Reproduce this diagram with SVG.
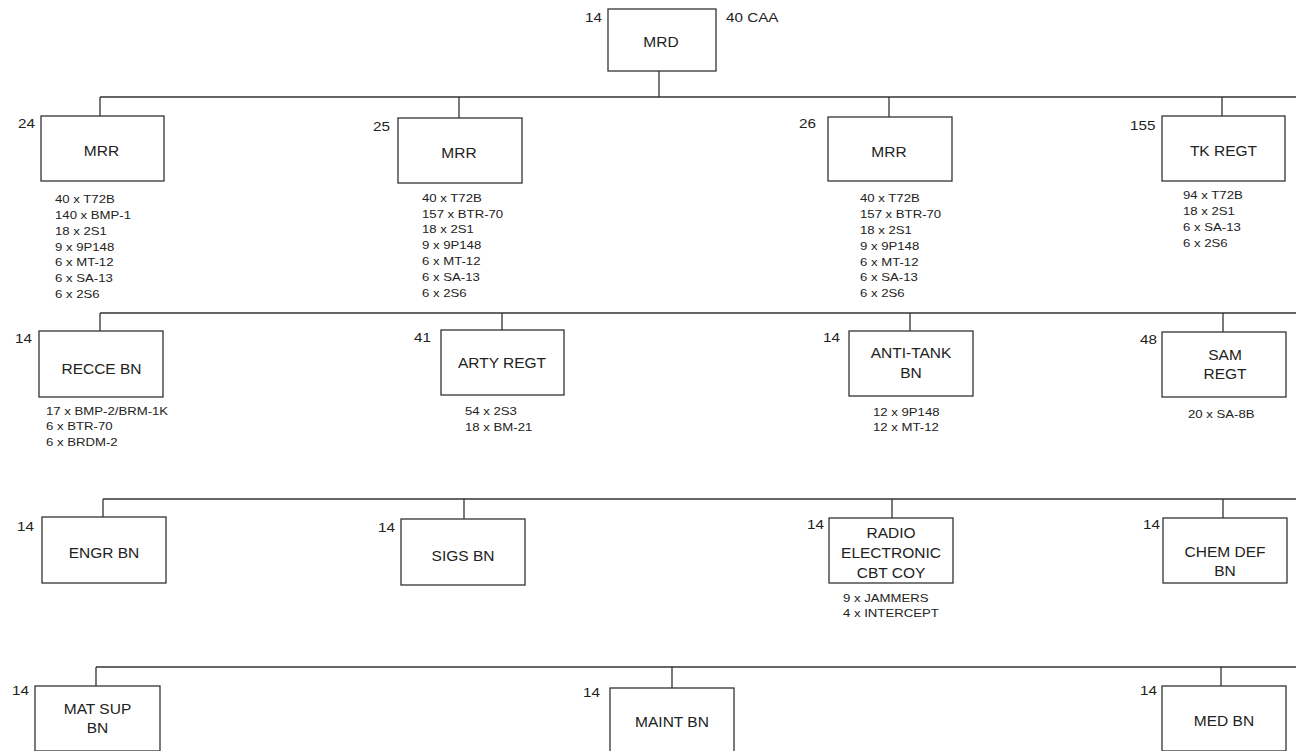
<svg xmlns="http://www.w3.org/2000/svg" width="1296" height="751" viewBox="0 0 1296 751">
<style>
.bg{fill:#ffffff}
.box{fill:#ffffff;stroke:#333333;stroke-width:1.3}
.ln{fill:none;stroke:#333333;stroke-width:1.3}
.lb{font-family:"Liberation Sans",Arial,sans-serif;font-size:15.5px;fill:#222222;text-anchor:middle}
.n{font-family:"Liberation Sans",Arial,sans-serif;font-size:12.5px;fill:#222222}
.s{font-family:"Liberation Sans",Arial,sans-serif;font-size:10.8px;fill:#222222}
</style>
<rect class="bg" x="0" y="0" width="1296" height="751"/>
<g id="connectors">
<path class="ln" d="M659 71V97M100 97H1296M100 97V116M459 97V118M889 97V117M1222 97V116"/>
<path class="ln" d="M100 313H1296M100 313V331M502 313V330M910 313V331M1223 313V332"/>
<path class="ln" d="M103 499H1296M103 499V517M464 499V519M892 499V518M1223 499V518"/>
<path class="ln" d="M96 667H1296M96 667V686M672 667V688M1221 667V686"/>
</g>
<g id="mrd">
<rect class="box" x="608" y="9" width="108" height="62"/>
<text class="lb" x="661" y="46.5">MRD</text>
<text class="n" transform="translate(585 22) scale(1.22 1)">14</text>
<text class="n" transform="translate(726 22) scale(1.22 1)">40 CAA</text>
</g>
<g id="mrr24">
<rect class="box" x="41" y="116" width="123" height="65"/>
<text class="lb" x="101.5" y="156">MRR</text>
<text class="n" transform="translate(18 128) scale(1.22 1)">24</text>
<text class="s" transform="translate(55 203.3) scale(1.22 1)"><tspan x="0" y="0">40 x T72B</tspan><tspan x="0" y="15.8">140 x BMP-1</tspan><tspan x="0" y="31.6">18 x 2S1</tspan><tspan x="0" y="47.4">9 x 9P148</tspan><tspan x="0" y="63.2">6 x MT-12</tspan><tspan x="0" y="79">6 x SA-13</tspan><tspan x="0" y="94.8">6 x 2S6</tspan></text>
</g>
<g id="mrr25">
<rect class="box" x="398" y="118" width="124" height="65"/>
<text class="lb" x="459" y="158">MRR</text>
<text class="n" transform="translate(373 131) scale(1.22 1)">25</text>
<text class="s" transform="translate(422 201.7) scale(1.22 1)"><tspan x="0" y="0">40 x T72B</tspan><tspan x="0" y="15.9">157 x BTR-70</tspan><tspan x="0" y="31.8">18 x 2S1</tspan><tspan x="0" y="47.7">9 x 9P148</tspan><tspan x="0" y="63.6">6 x MT-12</tspan><tspan x="0" y="79.5">6 x SA-13</tspan><tspan x="0" y="95.4">6 x 2S6</tspan></text>
</g>
<g id="mrr26">
<rect class="box" x="828" y="117" width="124" height="64"/>
<text class="lb" x="889" y="157">MRR</text>
<text class="n" transform="translate(799 128) scale(1.22 1)">26</text>
<text class="s" transform="translate(860 202) scale(1.22 1)"><tspan x="0" y="0">40 x T72B</tspan><tspan x="0" y="15.9">157 x BTR-70</tspan><tspan x="0" y="31.8">18 x 2S1</tspan><tspan x="0" y="47.7">9 x 9P148</tspan><tspan x="0" y="63.6">6 x MT-12</tspan><tspan x="0" y="79.5">6 x SA-13</tspan><tspan x="0" y="95.4">6 x 2S6</tspan></text>
</g>
<g id="tkregt">
<rect class="box" x="1162" y="116" width="123" height="65"/>
<text class="lb" x="1223.5" y="156">TK REGT</text>
<text class="n" transform="translate(1130 130) scale(1.22 1)">155</text>
<text class="s" transform="translate(1183 199) scale(1.22 1)"><tspan x="0" y="0">94 x T72B</tspan><tspan x="0" y="16">18 x 2S1</tspan><tspan x="0" y="32">6 x SA-13</tspan><tspan x="0" y="48">6 x 2S6</tspan></text>
</g>
<g id="recce">
<rect class="box" x="39" y="331" width="124" height="66"/>
<text class="lb" x="101.5" y="374">RECCE BN</text>
<text class="n" transform="translate(15 343) scale(1.22 1)">14</text>
<text class="s" transform="translate(46 415) scale(1.22 1)"><tspan x="0" y="0">17 x BMP-2/BRM-1K</tspan><tspan x="0" y="15.5">6 x BTR-70</tspan><tspan x="0" y="31">6 x BRDM-2</tspan></text>
</g>
<g id="arty">
<rect class="box" x="441" y="330" width="123" height="65"/>
<text class="lb" x="502" y="368">ARTY REGT</text>
<text class="n" transform="translate(414 342) scale(1.22 1)">41</text>
<text class="s" transform="translate(465 415) scale(1.22 1)"><tspan x="0" y="0">54 x 2S3</tspan><tspan x="0" y="15.7">18 x BM-21</tspan></text>
</g>
<g id="antitank">
<rect class="box" x="849" y="331" width="124" height="65"/>
<text class="lb" x="911" y="358">ANTI-TANK</text>
<text class="lb" x="911" y="378">BN</text>
<text class="n" transform="translate(823 342) scale(1.22 1)">14</text>
<text class="s" transform="translate(873 416) scale(1.22 1)"><tspan x="0" y="0">12 x 9P148</tspan><tspan x="0" y="15.5">12 x MT-12</tspan></text>
</g>
<g id="samregt">
<rect class="box" x="1162" y="332" width="124" height="65"/>
<text class="lb" x="1225" y="360">SAM</text>
<text class="lb" x="1225" y="379">REGT</text>
<text class="n" transform="translate(1140 344) scale(1.22 1)">48</text>
<text class="s" transform="translate(1188 418) scale(1.22 1)">20 x SA-8B</text>
</g>
<g id="engr">
<rect class="box" x="42" y="517" width="124" height="66"/>
<text class="lb" x="104" y="558">ENGR BN</text>
<text class="n" transform="translate(17 531) scale(1.22 1)">14</text>
</g>
<g id="sigs">
<rect class="box" x="401" y="519" width="124" height="66"/>
<text class="lb" x="463" y="561">SIGS BN</text>
<text class="n" transform="translate(378 532) scale(1.22 1)">14</text>
</g>
<g id="radio">
<rect class="box" x="829" y="518" width="124" height="65"/>
<text class="lb" x="891" y="538">RADIO</text>
<text class="lb" x="891" y="558">ELECTRONIC</text>
<text class="lb" x="891" y="578">CBT COY</text>
<text class="n" transform="translate(807 529) scale(1.22 1)">14</text>
<text class="s" transform="translate(843 601.5) scale(1.22 1)"><tspan x="0" y="0">9 x JAMMERS</tspan><tspan x="0" y="16">4 x INTERCEPT</tspan></text>
</g>
<g id="chemdef">
<rect class="box" x="1163" y="518" width="124" height="65"/>
<text class="lb" x="1225" y="556.5">CHEM DEF</text>
<text class="lb" x="1225" y="576">BN</text>
<text class="n" transform="translate(1143 529) scale(1.22 1)">14</text>
</g>
<g id="matsup">
<rect class="box" x="35" y="686" width="125" height="65"/>
<text class="lb" x="97.5" y="714">MAT SUP</text>
<text class="lb" x="97.5" y="733">BN</text>
<text class="n" transform="translate(12 695) scale(1.22 1)">14</text>
</g>
<g id="maint">
<rect class="box" x="610" y="688" width="124" height="65"/>
<text class="lb" x="672" y="727">MAINT BN</text>
<text class="n" transform="translate(583 697) scale(1.22 1)">14</text>
</g>
<g id="medbn">
<rect class="box" x="1162" y="686" width="124" height="65"/>
<text class="lb" x="1224" y="726">MED BN</text>
<text class="n" transform="translate(1140 695) scale(1.22 1)">14</text>
</g>
</svg>
